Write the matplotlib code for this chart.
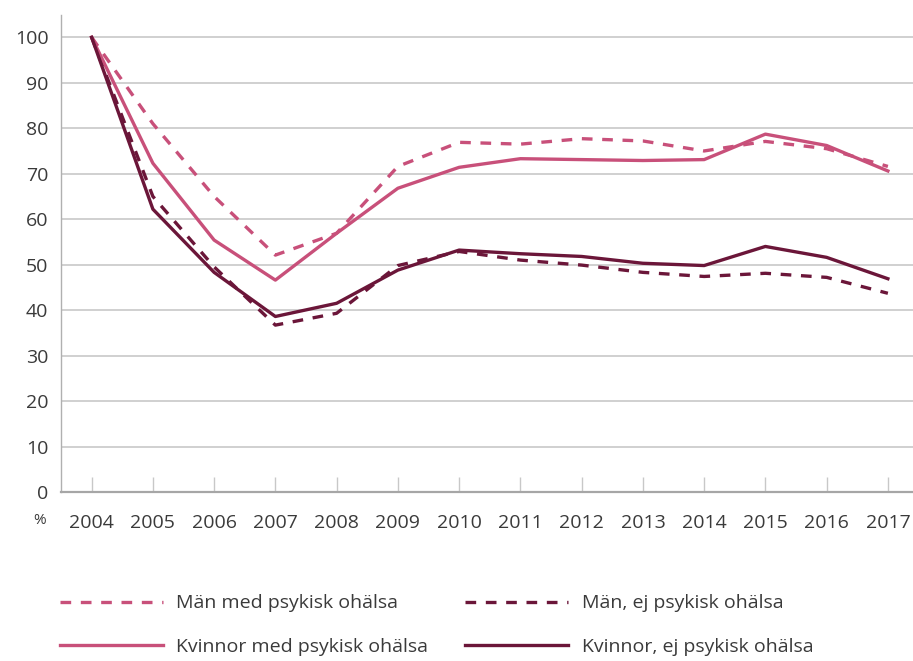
import matplotlib

matplotlib.use("Agg")
import matplotlib.pyplot as plt

plt.rcParams["font.family"] = ["Open Sans", "DejaVu Sans"]

# Index, 2004 = 100
YEARS = ["2004", "2005", "2006", "2007", "2008", "2009", "2010",
         "2011", "2012", "2013", "2014", "2015", "2016", "2017"]
MAN_MED = [100, 81.0, 65.0, 52.1, 56.9, 71.6, 76.9,
           76.5, 77.7, 77.2, 75.0, 77.1, 75.5, 71.6]
MAN_EJ = [100, 65.0, 49.5, 36.7, 39.3, 49.8, 52.9,
          51.0, 49.9, 48.3, 47.4, 48.1, 47.2, 43.7]
KVINNOR_MED = [100, 72.3, 55.4, 46.6, 56.9, 66.8, 71.4,
               73.3, 73.1, 72.9, 73.1, 78.7, 76.2, 70.6]
KVINNOR_EJ = [100, 62.2, 48.3, 38.6, 41.5, 48.8, 53.2,
              52.4, 51.8, 50.3, 49.8, 54.0, 51.6, 46.9]
LABELS = ["Män med psykisk ohälsa", "Män, ej psykisk ohälsa",
          "Kvinnor med psykisk ohälsa", "Kvinnor, ej psykisk ohälsa"]

PINK = "#C8507A"
DARK = "#6B1639"
TEXT = "#3a3a3a"

fig = plt.figure(figsize=(9.13, 6.61), dpi=100)
ax = fig.add_axes([61 / 913, 169 / 661, 852 / 913, 477 / 661])

x = list(range(len(YEARS)))
lw = 2.4
dash = (3.2, 2.9)
l1, = ax.plot(x, MAN_MED, color=PINK, lw=lw, dashes=dash, label=LABELS[0], zorder=3)
l2, = ax.plot(x, MAN_EJ, color=DARK, lw=lw, dashes=dash, label=LABELS[1], zorder=3)
l3, = ax.plot(x, KVINNOR_MED, color=PINK, lw=lw, label=LABELS[2], zorder=3)
l4, = ax.plot(x, KVINNOR_EJ, color=DARK, lw=lw, label=LABELS[3], zorder=3)

ax.set_xlim(-0.5, 13.41)
ax.set_ylim(0, 104.9)
ax.set_yticks(range(0, 101, 10))
ax.set_xticks(x)
ax.set_xticklabels(YEARS)
ax.tick_params(axis="y", length=0, labelsize=14, pad=9, labelcolor=TEXT)
ax.tick_params(axis="x", direction="in", length=11, width=1, color="#c8c8c8",
               labelsize=14, pad=16, labelcolor=TEXT)

ax.grid(axis="y", color="#c4c4c4", lw=1.1, zorder=1)
ax.set_axisbelow(True)
for side in ("top", "right"):
    ax.spines[side].set_visible(False)
ax.spines["left"].set_color("#b0b0b0")
ax.spines["left"].set_linewidth(1.0)
ax.spines["bottom"].set_color("#a6a6a6")
ax.spines["bottom"].set_linewidth(1.6)

fig.text(40 / 913, 1 - 521 / 661, "%", fontsize=11, ha="center", va="center",
         color=TEXT)

# matplotlib fills legend columns first: reorder so rows read Män / Kvinnor
fig.legend(handles=[l1, l3, l2, l4], loc="upper left",
           bbox_to_anchor=(42 / 913, 1 - 577 / 661), ncol=2, frameon=False,
           fontsize=14, handlelength=5.3, handletextpad=0.7,
           columnspacing=1.9, labelspacing=1.3, labelcolor=TEXT)

fig.savefig("out.png", dpi=100)
